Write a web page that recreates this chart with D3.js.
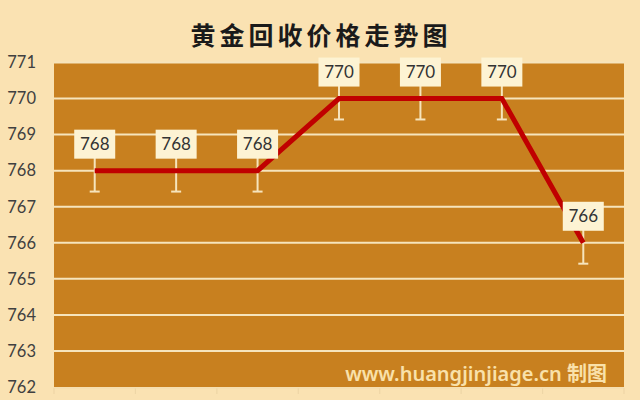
<!DOCTYPE html>
<html><head><meta charset="utf-8">
<script src="https://cdn.jsdelivr.net/npm/d3@7"></script>
<style>html,body{margin:0;padding:0;background:#FAE2B2;}svg{display:block;}</style>
</head><body>
<svg id="c" width="640" height="400"></svg>
<script>
const categories = ["1","2","3","4","5","6","7"];
const prices = [768, 768, 768, 770, 770, 770, 766];
const yTicks = [762,763,764,765,766,767,768,769,770,771];
const errorAmount = 0.58;
const titleText = "黄金回收价格走势图";
const watermark = "www.huangjinjiage.cn 制图";

const svg = d3.select("#c");
const W = 640, H = 400;
const m = {l:54, r:16, t:62.5, b:13};
svg.append("rect").attr("width",W).attr("height",H).attr("fill","#FAE2B2");

const x = d3.scaleBand().domain(categories).range([m.l, W - m.r]);
const y = d3.scaleLinear().domain([762, 771]).range([H - m.b, m.t]);

// plot area
svg.append("rect").attr("x", m.l).attr("y", m.t).attr("width", W - m.l - m.r).attr("height", H - m.t - m.b)
  .attr("fill", "#C8801F");

// gridlines
svg.append("g").selectAll("line").data(yTicks.filter(d => d > 762)).join("line")
  .attr("x1", m.l).attr("x2", W - m.r).attr("y1", d => y(d)).attr("y2", d => y(d))
  .attr("stroke", "#F6E4BC").attr("stroke-width", 2);

// y axis labels
const yAxis = d3.axisLeft(y).tickValues(yTicks).tickSize(0).tickPadding(18).tickFormat(d3.format("d"));
const ya = svg.append("g").attr("transform", `translate(${m.l},0)`).call(yAxis);
ya.select(".domain").remove();
ya.selectAll("text").attr("font-family", "Lato, 'Open Sans', sans-serif").attr("font-size", 16.5).attr("fill", "#404040");

// x axis faint ticks
const xa = svg.append("g").attr("transform", `translate(0,${H - m.b})`);
const bounds = categories.map(c => x(c)).concat([W - m.r]);
xa.selectAll("line").data(bounds).join("line")
  .attr("x1", d => d).attr("x2", d => d).attr("y1", 1).attr("y2", 7)
  .attr("stroke", "#EED6A6").attr("stroke-width", 1.2);
xa.append("line").attr("x1", m.l).attr("x2", W - m.r).attr("y1", 1).attr("y2", 1).attr("stroke", "#F2DCAE").attr("stroke-width", 1);

// watermark
svg.append("text").attr("x", 607).attr("y", 381).attr("text-anchor", "end")
  .attr("font-family", "'Noto Sans', 'Noto Sans CJK SC', sans-serif").attr("font-size", 20).attr("font-weight", 600)
  .attr("fill", "#F9E1AA").text(watermark);

const cx = d => x(d) + x.bandwidth() / 2;

// error bars
const eb = svg.append("g").attr("stroke", "#F6E4BC").attr("stroke-width", 2);
categories.forEach((c, i) => {
  const px = cx(c), lo = y(prices[i] - errorAmount), hi = y(prices[i] + errorAmount);
  eb.append("line").attr("x1", px).attr("x2", px).attr("y1", hi).attr("y2", lo);
  eb.append("line").attr("x1", px - 5).attr("x2", px + 5).attr("y1", lo).attr("y2", lo);
  eb.append("line").attr("x1", px - 5).attr("x2", px + 5).attr("y1", hi).attr("y2", hi);
});

// line
const line = d3.line().x((d, i) => cx(categories[i])).y(d => y(d));
svg.append("path").datum(prices).attr("d", line).attr("fill", "none")
  .attr("stroke", "#C00000").attr("stroke-width", 5).attr("stroke-linejoin", "miter");

// labels
const lg = svg.append("g");
categories.forEach((c, i) => {
  const px = cx(c), py = y(prices[i]);
  lg.append("rect").attr("x", px - 20.5).attr("y", py - 41).attr("width", 41).attr("height", 29)
    .attr("fill", "#FDF3D3");
  lg.append("text").attr("x", px).attr("y", py - 20.5).attr("text-anchor", "middle")
    .attr("font-family", "Lato, 'Open Sans', sans-serif").attr("font-size", 17).attr("fill", "#333")
    .text(prices[i]);
});

// title
svg.append("text").attr("x", 321).attr("y", 45).attr("text-anchor", "middle")
  .attr("font-family", "'Noto Sans CJK SC', sans-serif").attr("font-size", 25).attr("font-weight", 700)
  .attr("letter-spacing", 4).attr("fill", "#1a1a1a").text(titleText);
</script>
</body></html>
